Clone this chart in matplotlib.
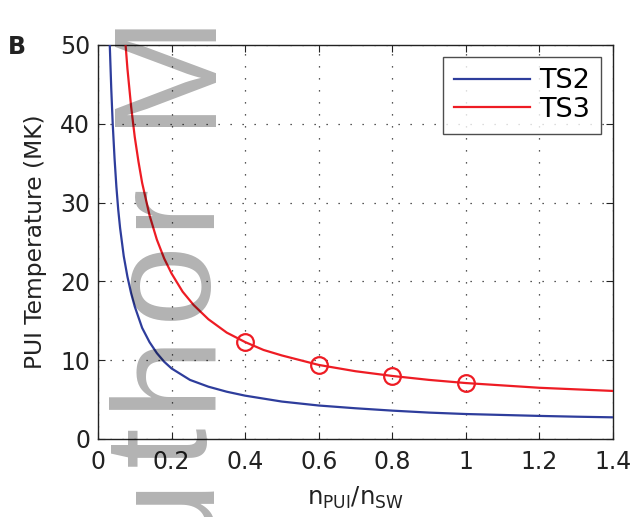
import matplotlib
matplotlib.use("Agg")
import matplotlib.pyplot as plt

# ---- data ----
ts2_x = [0.032, 0.036, 0.040, 0.045, 0.050, 0.055, 0.060, 0.070, 0.080, 0.090,
         0.100, 0.120, 0.140, 0.160, 0.180, 0.200, 0.250, 0.300, 0.350, 0.400,
         0.500, 0.600, 0.700, 0.800, 0.900, 1.000, 1.100, 1.200, 1.300, 1.400]
ts2_y = [50.0, 44.5, 40.0, 35.6, 32.0, 29.1, 26.8, 23.2, 20.6, 18.5,
         16.8, 14.1, 12.3, 10.9, 9.8, 8.95, 7.5, 6.64, 6.0, 5.5,
         4.75, 4.25, 3.9, 3.6, 3.35, 3.17, 3.05, 2.93, 2.83, 2.75]

ts3_x = [0.075, 0.080, 0.090, 0.100, 0.110, 0.120, 0.140, 0.160, 0.180, 0.200,
         0.230, 0.260, 0.300, 0.350, 0.400, 0.450, 0.500, 0.600, 0.700, 0.800,
         0.900, 1.000, 1.100, 1.200, 1.300, 1.400]
ts3_y = [50.0, 47.0, 42.2, 38.3, 35.2, 32.5, 28.4, 25.3, 22.9, 21.0,
         18.7, 17.0, 15.2, 13.5, 12.3, 11.3, 10.6, 9.4, 8.6, 8.0,
         7.5, 7.1, 6.8, 6.5, 6.3, 6.1]

mark_x = [0.4, 0.6, 0.8, 1.0]
mark_y = [12.3, 9.4, 8.0, 7.1]

xticks = [0, 0.2, 0.4, 0.6, 0.8, 1.0, 1.2, 1.4]
xticklabels = ["0", "0.2", "0.4", "0.6", "0.8", "1", "1.2", "1.4"]
yticks = [0, 10, 20, 30, 40, 50]

# watermark letters (rotated, reading bottom to top) and their centres (px from top)
wm_letters = ['u', 't', 'h', 'o', 'r', 'M']
wm_centers = [512, 446, 368, 279, 204, 65]

plt.rcParams['font.family'] = ['DejaVu Sans']
plt.rcParams['mathtext.fontset'] = 'dejavusans'

blue = '#2e3d9c'
red = '#ee1c24'
ink = '#222222'

fig = plt.figure(figsize=(6.35, 5.17), dpi=100)
ax = fig.add_axes([98/635, (517-439)/517, (613-98)/635, (439-45)/517])

ax.plot(ts2_x, ts2_y, color=blue, lw=1.6, label='TS2', zorder=3)
ax.plot(ts3_x, ts3_y, color=red, lw=1.6, label='TS3', zorder=3)
ax.plot(mark_x, mark_y, linestyle='none', marker='o', markersize=12,
        markerfacecolor='none', markeredgecolor=red, markeredgewidth=1.6, zorder=4)

ax.set_xlim(0, 1.4)
ax.set_ylim(0, 50)
ax.set_xticks(xticks)
ax.set_xticklabels(xticklabels)
ax.set_yticks(yticks)
ax.tick_params(direction='in', length=5, width=0.8, top=True, right=True,
               labelsize=17, colors=ink)
ax.tick_params(axis='x', pad=8)
ax.tick_params(axis='y', pad=5.5)
for s in ax.spines.values():
    s.set_linewidth(1.0)
    s.set_color(ink)
ax.grid(True, color=ink, linestyle=(0, (1, 8.6)), linewidth=0.9)

ax.set_xlabel(r'$\mathregular{n_{PUI}/n_{SW}}$', fontsize=17.5, color=ink)
ax.xaxis.set_label_coords(0.5, (439-485)/394)
ax.set_ylabel('PUI Temperature (MK)', fontsize=16.8, color=ink)
ax.yaxis.set_label_coords((47-98)/515, 0.5)

leg = ax.legend(loc='upper right', fontsize=19.5, frameon=True, fancybox=False,
                edgecolor=ink, handlelength=2.8, borderaxespad=0.45,
                handletextpad=0.35, labelspacing=0.1, borderpad=0.4)
leg.get_frame().set_linewidth(1.0)

fig.text(8/635, 1 - 47/517, 'B', fontsize=17, fontweight='bold', color=ink,
         ha='left', va='center')

# watermark
for ch, yc in zip(wm_letters, wm_centers):
    fig.text(205/635, 1 - yc/517, ch, rotation=90, rotation_mode='anchor',
             ha='center', va='baseline', fontsize=105, family='Liberation Sans',
             color='black', alpha=0.3, zorder=10)

fig.savefig('out.png', dpi=100)
